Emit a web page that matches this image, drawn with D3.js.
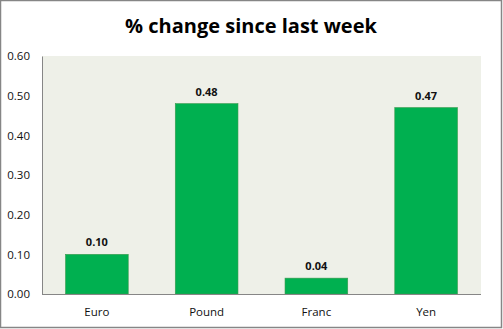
<!DOCTYPE html>
<html>
<head>
<meta charset="utf-8">
<script src="https://cdn.jsdelivr.net/npm/d3@7/dist/d3.min.js"></script>
<style>
  html, body { margin: 0; padding: 0; background: #fff; }
  svg { display: block; }
</style>
</head>
<body>
<script>
// Weekly percentage change by currency
const categories = ["Euro", "Pound", "Franc", "Yen"];
const values = [0.10, 0.48, 0.04, 0.47];
const yTicks = [0, 0.1, 0.2, 0.3, 0.4, 0.5, 0.6];
const title = "% change since last week";

const W = 503, H = 329;
const plot = { left: 42, right: 481, top: 56, bottom: 294 };

const svg = d3.select("body").append("svg")
  .attr("width", W).attr("height", H);

// outer frame
svg.append("rect")
  .attr("x", 0.5).attr("y", 0.5)
  .attr("width", W - 2).attr("height", H - 2)
  .attr("fill", "#fff").attr("stroke", "#868686").attr("stroke-width", 1.5);

const x = d3.scaleBand()
  .domain(categories)
  .range([plot.left, plot.right])
  .paddingInner(0.4286)
  .paddingOuter(0.2143);

const y = d3.scaleLinear()
  .domain([0, 0.6])
  .range([plot.bottom, plot.top]);

// plot background
svg.append("rect")
  .attr("x", plot.left).attr("y", plot.top)
  .attr("width", plot.right - plot.left).attr("height", plot.bottom - plot.top)
  .attr("fill", "#EEF0E8");

// bars
svg.selectAll("rect.bar")
  .data(values)
  .join("rect")
  .attr("class", "bar")
  .attr("x", (d, i) => x(categories[i]))
  .attr("y", d => y(d))
  .attr("width", x.bandwidth())
  .attr("height", d => y(0) - y(d))
  .attr("fill", "#00B050")
  .attr("stroke", "#3A9A4E")
  .attr("stroke-width", 0.6);

// value labels
svg.selectAll("text.val")
  .data(values)
  .join("text")
  .attr("class", "val")
  .attr("x", (d, i) => x(categories[i]) + x.bandwidth() / 2)
  .attr("y", d => y(d) - 8)
  .attr("text-anchor", "middle")
  .attr("font-family", "'Open Sans', 'DejaVu Sans', sans-serif")
  .attr("font-weight", "bold")
  .attr("font-size", 11)
  .attr("fill", "#111")
  .text(d => d3.format(".2f")(d));

// y axis
const yAxis = d3.axisLeft(y)
  .tickValues(yTicks)
  .tickFormat(d3.format(".2f"))
  .tickSize(0)
  .tickPadding(12);
const gy = svg.append("g")
  .attr("transform", `translate(${plot.left},0)`)
  .call(yAxis);
gy.select(".domain").attr("stroke", "#868686");
gy.selectAll("text")
  .attr("font-family", "'Open Sans', 'DejaVu Sans', sans-serif")
  .attr("font-size", 11.5)
  .attr("fill", "#111");

// x axis
const xAxis = d3.axisBottom(x).tickSize(0).tickPadding(14);
const gx = svg.append("g")
  .attr("transform", `translate(0,${plot.bottom})`)
  .call(xAxis);
gx.select(".domain").attr("stroke", "#868686").attr("d", `M${plot.left},0.5H${plot.right}`);
gx.selectAll("text")
  .attr("font-family", "'Open Sans', 'DejaVu Sans', sans-serif")
  .attr("font-size", 11.5)
  .attr("fill", "#111");

// title
svg.append("text")
  .attr("x", 251).attr("y", 33)
  .attr("text-anchor", "middle")
  .attr("font-family", "'Open Sans', 'DejaVu Sans', sans-serif")
  .attr("font-weight", "bold")
  .attr("font-size", 20)
  .attr("fill", "#000")
  .text(title);
</script>
</body>
</html>
